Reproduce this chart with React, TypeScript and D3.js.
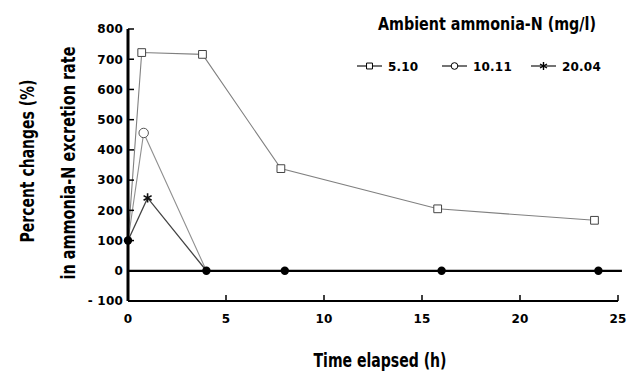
import { useEffect, useRef } from "react";
import * as d3 from "d3";

// series (time in h, percent change)
const squareTimes = [0, 0.7, 3.8, 7.8, 15.8, 23.8];
const squareValues = [100, 722, 716, 338, 205, 167];
const circleTimes = [0, 0.8, 4, 8, 16, 24];
const circleValues = [100, 456, 0, 0, 0, 0];
const starTimes = [0, 1, 4, 8, 16, 24];
const starValues = [100, 241, 0, 0, 0, 0];
const dotTimes = [0, 4, 8, 16, 24];
const dotValues = [100, 0, 0, 0, 0];
const legendLabels = ["5.10", "10.11", "20.04"];
const xTicks = [0, 5, 10, 15, 20, 25];
const yTicks = [-100, 0, 100, 200, 300, 400, 500, 600, 700, 800];

const condensed = "'DejaVu Sans Condensed', 'Liberation Sans Narrow', sans-serif";
const plain = "'DejaVu Sans', 'Liberation Sans', sans-serif";

const App = () => {
	const svgRef = useRef<SVGSVGElement>(null);

	useEffect(() => {
		if (!svgRef.current) return;
		const svg = d3.select(svgRef.current);
		svg.selectAll("*").remove();

		const x = d3.scaleLinear().domain([0, 25]).range([128, 618]);
		const y = d3.scaleLinear().domain([-100, 800]).range([301, 29]);

		const pts = (ts: number[], vs: number[]) => ts.map((t, i) => [t, vs[i]] as [number, number]);
		const line = d3
			.line<[number, number]>()
			.x((d) => x(d[0]))
			.y((d) => y(d[1]));

		// series lines
		svg.append("path").datum(pts(squareTimes, squareValues)).attr("d", line)
			.attr("fill", "none").attr("stroke", "#808080").attr("stroke-width", 1.1);
		svg.append("path").datum(pts(circleTimes, circleValues)).attr("d", line)
			.attr("fill", "none").attr("stroke", "#909090").attr("stroke-width", 1.1);
		svg.append("path").datum(pts(starTimes, starValues)).attr("d", line)
			.attr("fill", "none").attr("stroke", "#444").attr("stroke-width", 1.3);

		// axes
		svg.append("line").attr("x1", x(0)).attr("x2", x(0)).attr("y1", y(800)).attr("y2", y(-100))
			.attr("stroke", "#000").attr("stroke-width", 3);
		svg.append("line").attr("x1", x(0)).attr("x2", x(25)).attr("y1", y(-100)).attr("y2", y(-100))
			.attr("stroke", "#000").attr("stroke-width", 2.2);
		svg.append("line").attr("x1", x(0)).attr("x2", x(25.2)).attr("y1", y(0)).attr("y2", y(0))
			.attr("stroke", "#000").attr("stroke-width", 2.2);

		yTicks.forEach((t) => {
			svg.append("line").attr("x1", x(0)).attr("x2", x(0) + 6).attr("y1", y(t)).attr("y2", y(t))
				.attr("stroke", "#000").attr("stroke-width", 1.5);
			svg.append("text").attr("x", x(0) - 5).attr("y", y(t)).attr("dy", "0.36em")
				.attr("text-anchor", "end").attr("font-family", plain).attr("font-weight", "bold")
				.attr("font-size", 12).attr("letter-spacing", 0.2).text(t === -100 ? "- 100" : String(t));
		});
		xTicks.forEach((t) => {
			if (t > 0) {
				svg.append("line").attr("x1", x(t)).attr("x2", x(t)).attr("y1", y(-100)).attr("y2", y(-100) - 6)
					.attr("stroke", "#000").attr("stroke-width", 1.5);
			}
			svg.append("text").attr("x", x(t)).attr("y", y(-100) + 22)
				.attr("text-anchor", "middle").attr("font-family", plain).attr("font-weight", "bold")
				.attr("font-size", 12).attr("letter-spacing", 0.2).text(String(t));
		});

		// markers
		const sq = d3.symbol().type(d3.symbolSquare).size(60);
		const circ = d3.symbol().type(d3.symbolCircle).size(70);
		const star = d3.symbol().type(d3.symbolAsterisk).size(60);

		pts(squareTimes, squareValues).slice(1).forEach((d) => {
			svg.append("path").attr("d", sq()).attr("transform", `translate(${x(d[0])},${y(d[1])})`)
				.attr("fill", "#fff").attr("stroke", "#444").attr("stroke-width", 1);
		});
		svg.append("path").attr("d", circ()).attr("transform", `translate(${x(circleTimes[1])},${y(circleValues[1])})`)
			.attr("fill", "#fff").attr("stroke", "#555").attr("stroke-width", 1);
		svg.append("path").attr("d", star()).attr("transform", `translate(${x(starTimes[1])},${y(starValues[1])})`)
			.attr("fill", "none").attr("stroke", "#111").attr("stroke-width", 1.6);

		pts(dotTimes, dotValues).forEach((d) => {
			svg.append("circle").attr("cx", x(d[0])).attr("cy", y(d[1])).attr("r", 4.2).attr("fill", "#000");
		});

		// legend
		svg.append("text").attr("x", 378).attr("y", 30).attr("font-family", condensed)
			.attr("font-weight", "bold").attr("font-size", 17).attr("textLength", 218)
			.attr("lengthAdjust", "spacingAndGlyphs").text("Ambient ammonia-N (mg/l)");

		const legendX = [357, 442, 531];
		const legendSyms = [sq, circ, star];
		legendLabels.forEach((lab, i) => {
			const lx = legendX[i];
			svg.append("line").attr("x1", lx).attr("x2", lx + 25).attr("y1", 66).attr("y2", 66)
				.attr("stroke", "#000").attr("stroke-width", 1.1);
			svg.append("path").attr("d", legendSyms[i].size(i === 2 ? 45 : 35)())
				.attr("transform", `translate(${lx + 12.5},66)`)
				.attr("fill", i === 2 ? "none" : "#fff").attr("stroke", "#000")
				.attr("stroke-width", i === 2 ? 1.4 : 1);
			svg.append("text").attr("x", lx + 31).attr("y", 66).attr("dy", "0.38em")
				.attr("font-family", plain).attr("font-weight", "bold").attr("font-size", 12)
				.attr("letter-spacing", 0.2).text(lab);
		});

		// axis titles
		svg.append("text").attr("x", 380).attr("y", 367).attr("text-anchor", "middle")
			.attr("font-family", condensed).attr("font-weight", "bold").attr("font-size", 19)
			.attr("textLength", 133).attr("lengthAdjust", "spacingAndGlyphs").text("Time elapsed (h)");
		svg.append("text").attr("transform", "translate(34,161) rotate(-90)").attr("text-anchor", "middle")
			.attr("font-family", condensed).attr("font-weight", "bold").attr("font-size", 19)
			.attr("textLength", 163).attr("lengthAdjust", "spacingAndGlyphs").text("Percent changes (%)");
		svg.append("text").attr("transform", "translate(75,163) rotate(-90)").attr("text-anchor", "middle")
			.attr("font-family", condensed).attr("font-weight", "bold").attr("font-size", 19)
			.attr("textLength", 233).attr("lengthAdjust", "spacingAndGlyphs").text("in ammonia-N excretion rate");
	}, []);

	return (
		<div style={{ position: "absolute", left: 0, top: 0 }}>
			<svg ref={svgRef} width={637} height={371} style={{ display: "block", background: "#fff" }}></svg>
		</div>
	);
};

export default App;
